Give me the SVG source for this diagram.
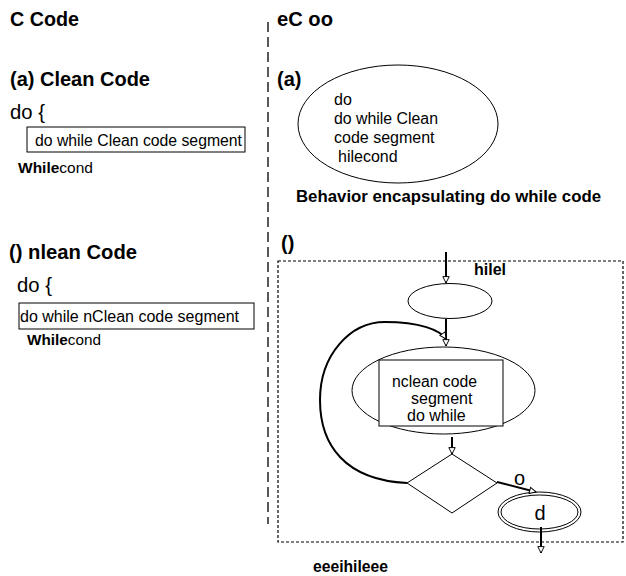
<svg xmlns="http://www.w3.org/2000/svg" width="626" height="576" viewBox="0 0 626 576">
<defs>
<marker id="ah" viewBox="0 0 10 10" refX="9" refY="5" markerWidth="8" markerHeight="8" orient="auto" markerUnits="userSpaceOnUse">
<path d="M1,1 L9,5 L1,9 Z" fill="#fff" stroke="#000" stroke-width="1.2"/>
</marker>
</defs>
<style>
text{font-family:"Liberation Sans",Arial,sans-serif;fill:#000}
.h{font-weight:bold;font-size:20px}
.b{font-weight:bold}
.s{font-size:16px}
.n{fill:#fff;stroke:#000;stroke-width:1}
.c{fill:none;stroke:#000;stroke-width:2}
</style>
<rect width="626" height="576" fill="#fff"/>
<line x1="268" y1="22" x2="268" y2="524" stroke="#000" stroke-width="1.3" stroke-dasharray="10,5"/>
<g id="left">
<text x="10" y="26" class="h" textLength="69" lengthAdjust="spacingAndGlyphs">C Code</text>
<text x="10" y="86" class="h" textLength="140" lengthAdjust="spacingAndGlyphs">(a) Clean Code</text>
<text x="10" y="119" font-size="21" textLength="35" lengthAdjust="spacingAndGlyphs">do {</text>
<rect x="27" y="127" width="218" height="25" class="n"/>
<text x="35" y="146" font-size="16" textLength="207" lengthAdjust="spacingAndGlyphs">do while Clean code segment</text>
<text x="18" y="173" font-size="15.5" textLength="75" lengthAdjust="spacingAndGlyphs"><tspan class="b">While</tspan>cond</text>
<text x="9" y="259" class="h" textLength="128" lengthAdjust="spacingAndGlyphs">() nlean Code</text>
<text x="17" y="292" font-size="21" textLength="35" lengthAdjust="spacingAndGlyphs">do {</text>
<rect x="19" y="303" width="235" height="26" class="n"/>
<text x="20" y="322" font-size="16" textLength="219" lengthAdjust="spacingAndGlyphs">do while nClean code segment</text>
<text x="27" y="345" font-size="15.5" textLength="74" lengthAdjust="spacingAndGlyphs"><tspan class="b">While</tspan>cond</text>
</g>
<g id="right-a">
<text x="277" y="26" class="h" textLength="56" lengthAdjust="spacingAndGlyphs">eC oo</text>
<text x="277" y="86" class="h">(a)</text>
<ellipse cx="398" cy="124" rx="100" ry="59" class="n"/>
<text x="334" y="105" class="s">do</text>
<text x="334" y="124" class="s" textLength="104" lengthAdjust="spacingAndGlyphs">do while Clean</text>
<text x="334" y="143" class="s">code segment</text>
<text x="338" y="162" class="s">hilecond</text>
<text x="296" y="202" class="s b" textLength="305" lengthAdjust="spacingAndGlyphs">Behavior encapsulating do while code</text>
</g>
<g id="right-b">
<text x="281" y="250" class="h">()</text>
<rect x="278" y="261" width="345" height="281" fill="none" stroke="#000" stroke-width="1.2" stroke-dasharray="3,2"/>
<text x="474" y="275" class="s b" textLength="32" lengthAdjust="spacingAndGlyphs">hilel</text>
</g>
<g id="start"><ellipse cx="450" cy="301" rx="42" ry="17.5" class="n"/></g>
<g id="body">
<ellipse cx="443.5" cy="390.5" rx="91.5" ry="43.5" class="n"/>
<rect x="379" y="360" width="124" height="66" class="n"/>
<text x="392" y="387" font-size="16" textLength="85" lengthAdjust="spacingAndGlyphs">nclean code</text>
<text x="411" y="404" font-size="16">segment</text>
<text x="407" y="421" font-size="16">do while</text>
</g>
<g id="cond"><polygon points="452,454 497,483 452,513 407,483" class="n"/></g>
<g id="done">
<ellipse cx="539.5" cy="512" rx="41.5" ry="20" class="n"/>
<ellipse cx="539.5" cy="512" rx="38.5" ry="17" class="n"/>
<text x="540" y="520" font-size="20" text-anchor="middle">d</text>
</g>
<g id="connectors">
<line x1="446" y1="252" x2="446" y2="283" class="c" marker-end="url(#ah)"/>
<line x1="446" y1="319" x2="446" y2="346" class="c" marker-end="url(#ah)"/>
<path d="M407,483 C345,480 320,445 320,400 C320,355 350,322 385,322 C420,322 440,330 446,339" class="c" marker-end="url(#ah)"/>
<line x1="452" y1="437" x2="452" y2="454" class="c" marker-end="url(#ah)"/>
<line x1="497" y1="482" x2="536" y2="492" class="c" marker-end="url(#ah)"/>
<line x1="541" y1="527" x2="541" y2="553" class="c" marker-end="url(#ah)"/>
<text x="514" y="485" font-size="20">o</text>
<text x="313" y="572" class="s b" textLength="75" lengthAdjust="spacingAndGlyphs">eeeihileee</text>
</g>
</svg>
